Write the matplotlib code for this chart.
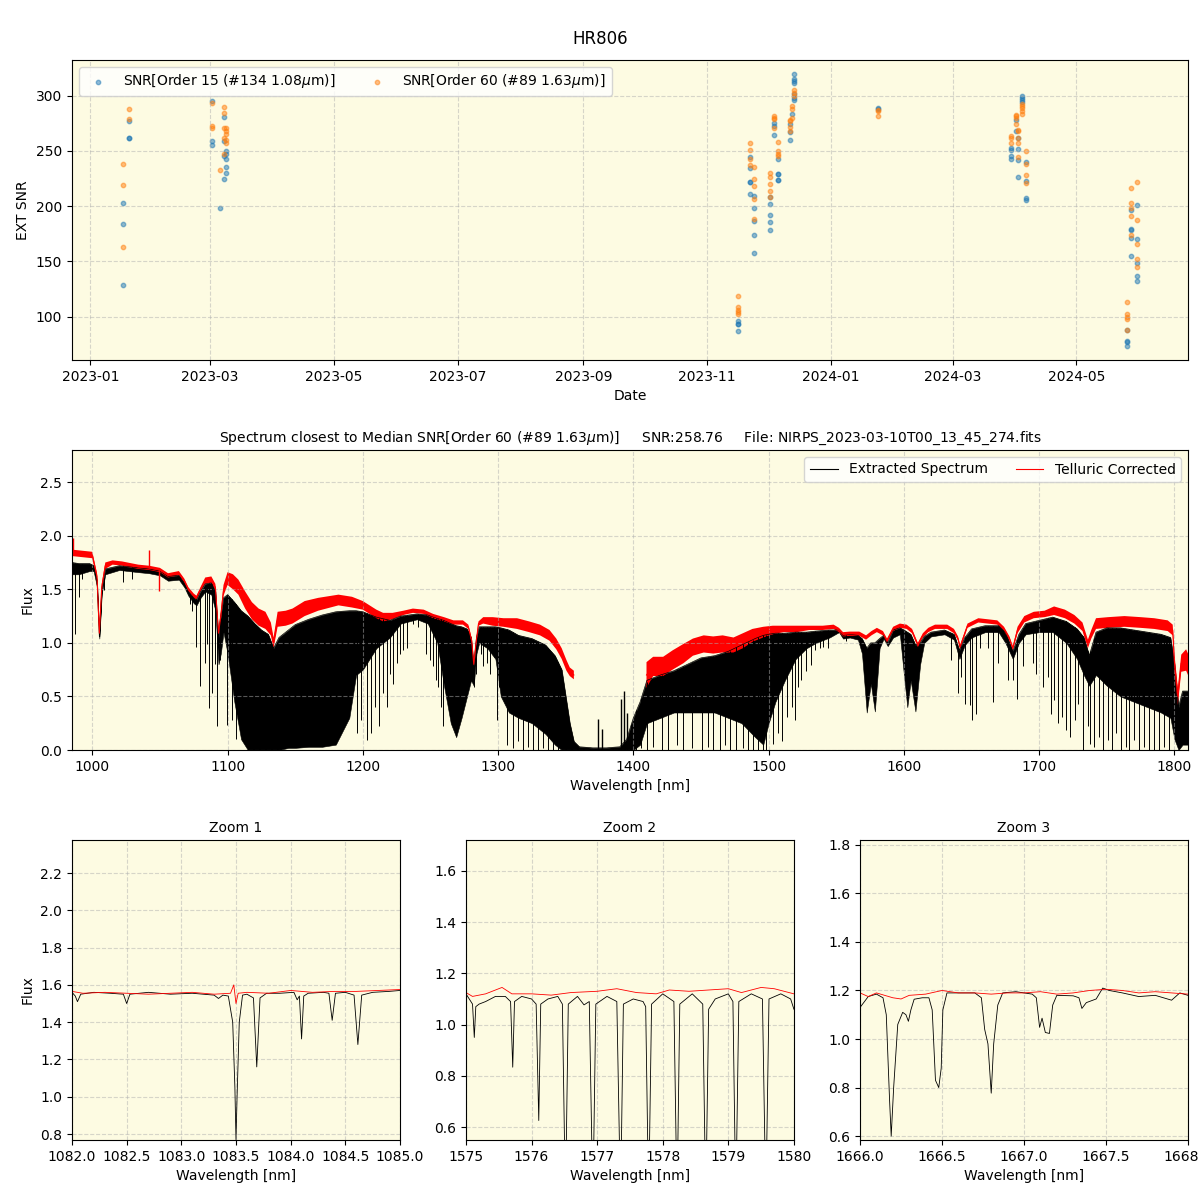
import numpy as np
import pandas as pd
import matplotlib
matplotlib.use("Agg")
import matplotlib.pyplot as plt
import matplotlib.dates as mdates
from matplotlib.lines import Line2D

# ---- SNR time series ----
snr15_dates = (["2023-01-17"] * 3 + ["2023-01-20"] * 3 + ["2023-03-02"] * 3 + ["2023-03-06"]
               + ["2023-03-08"] * 4 + ["2023-03-09"] * 5 + ["2023-11-16"] * 4 + ["2023-11-22"] * 5
               + ["2023-11-24"] * 5 + ["2023-12-02"] * 5 + ["2023-12-04"] * 3 + ["2023-12-06"] * 5
               + ["2023-12-12"] * 3 + ["2023-12-13"] + ["2023-12-14"] * 7 + ["2024-01-24"] * 2
               + ["2024-03-30"] * 4 + ["2024-04-01"] * 2 + ["2024-04-02"] * 4 + ["2024-04-04"] * 4
               + ["2024-04-06"] * 4 + ["2024-05-26"] * 4 + ["2024-05-28"] * 5 + ["2024-05-31"] * 5)
snr15 = [203, 184, 128.5, 277, 262, 262, 295, 259.4, 255.8, 198,
         281, 259.4, 245, 225, 250, 247.6, 243, 235, 229.7, 96, 93.3, 93.3, 86.6,
         244.5, 234.8, 221.8, 221.8, 211, 209.4, 198, 186.7, 173.6, 158,
         202, 192, 185.5, 178, 208.5, 275.5, 273, 264.5, 242.7, 229, 229, 223.6, 223.6,
         274.8, 267.3, 260, 283.6, 320, 315.5, 313.6, 311.2, 301.2, 298.2, 296.4, 289, 287.9,
         252.7, 251.2, 245.8, 242.7, 277.9, 268.5, 261.5, 252, 241.5, 226.4,
         299.7, 298.2, 296.4, 294.5, 239.7, 222.4, 207.6, 205.5, 88.2, 78, 76.7, 73,
         196.7, 179.7, 178, 171.2, 154.8, 201.2, 170.6, 148.2, 136.4, 132]

snr60_dates = (["2023-01-17"] * 3 + ["2023-01-20"] * 2 + ["2023-03-02"] * 3 + ["2023-03-06"]
               + ["2023-03-08"] * 5 + ["2023-03-09"] * 5 + ["2023-11-16"] * 5 + ["2023-11-22"] * 4
               + ["2023-11-24"] * 5 + ["2023-12-02"] * 5 + ["2023-12-04"] * 4 + ["2023-12-06"] * 4
               + ["2023-12-12"] * 4 + ["2023-12-13"] * 3 + ["2023-12-14"] * 3 + ["2024-01-24"] * 3
               + ["2024-03-30"] * 3 + ["2024-04-01"] * 4 + ["2024-04-02"] * 5 + ["2024-04-04"] * 5
               + ["2024-04-06"] * 4 + ["2024-05-26"] * 5 + ["2024-05-28"] * 5 + ["2024-05-31"] * 5)
snr60 = [238.5, 219.4, 163, 287.6, 278.5, 293.6, 272.4, 270.6, 233,
         289.4, 284.8, 271, 262, 247.6, 270.6, 268, 265, 259.7, 257,
         119, 108.5, 106, 104, 102.7, 257.3, 251, 243, 237,
         235.8, 224.8, 218.5, 206.7, 188.5, 230, 226.7, 220.3, 214, 208.5,
         281.5, 280, 278.5, 270.6, 258.2, 250, 247.6, 245.8, 278.2, 276.7, 272.1, 268,
         290.6, 287.6, 280, 304.8, 302.7, 299.7, 287, 285.8, 281.8, 263.3, 262, 257.3,
         282.7, 281.2, 279.7, 274.5, 269, 268, 261.5, 257, 244.8,
         292.4, 290.6, 288.5, 286.4, 283, 250, 238.5, 228.5, 221,
         113.6, 102, 100, 97.6, 88.2, 216.7, 202.7, 198, 191, 174,
         221.8, 187.3, 166, 152.2, 144.5]

# ---- extracted spectrum: upper envelope and floor of the dense telluric forest ----
blk_wl = [985, 990, 998, 1001, 1003.5, 1005.2, 1007, 1009.6, 1020, 1034, 1042, 1050, 1056, 1064,
          1068, 1071, 1075, 1077, 1080, 1083.5, 1088, 1091, 1093.3, 1095, 1097, 1100, 1105, 1110,
          1115, 1120, 1125, 1130, 1134, 1138, 1145, 1150, 1160, 1170, 1180, 1190, 1195, 1200,
          1210, 1220, 1228, 1240, 1248, 1255, 1260, 1265, 1269, 1273, 1277, 1280, 1282, 1284,
          1286, 1292, 1298, 1302, 1308, 1315, 1325, 1335, 1342, 1347, 1350, 1353, 1356, 1360,
          1370, 1380, 1390, 1395, 1400, 1405, 1410, 1420, 1430, 1440, 1450, 1460, 1470, 1480,
          1490, 1496, 1500, 1505, 1512, 1520, 1528, 1535, 1545, 1552, 1555, 1560, 1566, 1569,
          1572.5, 1575.5, 1578.5, 1582, 1585, 1588, 1592, 1597, 1600, 1602.5, 1605, 1608.5,
          1612, 1615, 1620, 1630, 1637, 1641, 1645, 1650, 1660, 1670, 1675, 1680.5, 1685, 1690,
          1700, 1710, 1720, 1728, 1733, 1737, 1742, 1750, 1760, 1770, 1780, 1790, 1797, 1800,
          1803, 1806, 1810]
blk_top = [1.75, 1.74, 1.74, 1.72, 1.58, 1.06, 1.50, 1.69, 1.72, 1.70, 1.69, 1.67, 1.62, 1.63,
           1.56, 1.48, 1.42, 1.40, 1.48, 1.55, 1.56, 1.48, 1.05, 1.25, 1.42, 1.45, 1.38, 1.30,
           1.25, 1.18, 1.12, 1.08, 0.95, 1.05, 1.12, 1.17, 1.22, 1.26, 1.29, 1.30, 1.30, 1.29,
           1.24, 1.21, 1.25, 1.27, 1.26, 1.23, 1.21, 1.18, 1.16, 1.15, 1.13, 1.05, 0.78, 1.05,
           1.15, 1.15, 1.15, 1.14, 1.12, 1.07, 1.04, 0.98, 0.88, 0.75, 0.50, 0.25, 0.08, 0.03,
           0.02, 0.02, 0.03, 0.10, 0.30, 0.45, 0.65, 0.70, 0.74, 0.80, 0.86, 0.88, 0.92, 0.98,
           1.04, 1.07, 1.08, 1.09, 1.09, 1.10, 1.10, 1.11, 1.12, 1.12, 1.07, 1.08, 1.07, 1.04,
           0.95, 1.00, 1.00, 1.04, 1.07, 1.00, 1.12, 1.14, 1.12, 1.10, 1.08, 0.98,
           1.00, 1.06, 1.10, 1.12, 1.08, 0.93, 1.05, 1.13, 1.16, 1.16, 1.10, 0.92, 1.08, 1.18,
           1.21, 1.24, 1.20, 1.13, 1.05, 0.88, 1.10, 1.14, 1.14, 1.12, 1.10, 1.08, 1.05, 0.80,
           0.40, 0.55, 0.55]
blk_floor = [1.64, 1.64, 1.67, 1.67, 1.52, 1.04, 1.46, 1.64, 1.68, 1.66, 1.65, 1.63, 1.58, 1.59,
             1.52, 1.44, 1.37, 1.35, 1.42, 1.48, 1.45, 1.30, 0.80, 0.90, 1.10, 0.90, 0.45, 0.10,
             0.0, 0.0, 0.0, 0.0, 0.0, 0.0, 0.02, 0.02, 0.03, 0.03, 0.05, 0.30, 0.70, 0.75,
             0.95, 1.05, 1.18, 1.22, 1.18, 1.00, 0.60, 0.25, 0.12, 0.30, 0.50, 0.65, 0.60, 0.90,
             1.00, 0.95, 0.85, 0.50, 0.35, 0.30, 0.25, 0.15, 0.05, 0.0, 0.0, 0.0, 0.0, 0.0,
             0.0, 0.0, 0.0, 0.0, 0.0, 0.05, 0.25, 0.30, 0.35, 0.35, 0.35, 0.35, 0.30, 0.25,
             0.12, 0.05, 0.25, 0.45, 0.65, 0.85, 0.95, 1.00, 1.05, 1.10, 1.04, 1.05, 1.03, 0.90,
             0.35, 0.62, 0.36, 0.95, 1.04, 0.97, 1.05, 1.08, 0.70, 0.40, 0.65, 0.36,
             0.80, 1.00, 1.06, 1.08, 1.03, 0.85, 0.98, 1.05, 1.10, 1.10, 1.00, 0.85, 1.00, 1.08,
             1.10, 1.10, 1.00, 0.85, 0.70, 0.60, 0.70, 0.60, 0.50, 0.45, 0.40, 0.35, 0.30, 0.10,
             0.0, 0.05, 0.05]

# isolated deep telluric lines (wavelength, minimum flux)
line_wl = [987.5, 990, 992.4, 1008.4, 1023, 1029.4, 1072.5, 1074, 1076.5, 1079.6, 1083, 1084.8,
           1086, 1088.4, 1090.5, 1092.3, 1094.6, 1099.5, 1103.2, 1106,
           1195.4, 1199, 1202.8, 1205.8, 1209, 1212.2, 1215.1, 1217.6, 1220, 1222, 1225, 1227.4,
           1229.9, 1232.9, 1236.8, 1241, 1246.7, 1249.6, 1252, 1254, 1255.8, 1257.5, 1259.5,
           1282.1, 1283.5, 1287, 1289, 1291.5, 1294, 1296.9, 1298.9, 1301,
           1306.3, 1311.2, 1314.9, 1318.6, 1322.3, 1326, 1329.7, 1333.4, 1337, 1340.7, 1344.4,
           1398.6, 1402.3, 1406, 1409.7, 1414.6, 1420.8, 1425.7, 1431.9, 1436.8, 1443, 1450.4,
           1455.3, 1459, 1463.9, 1467.6, 1471.3, 1476.2, 1481.1, 1484.8, 1488.5, 1492.2, 1496,
           1498.4,
           1503.3, 1507, 1509.5, 1513.2, 1516.9, 1519.3, 1521.8, 1524.2, 1527.9, 1531.6, 1534,
           1537.8, 1540.3, 1544, 1557,
           1634.9, 1640.3, 1642.3, 1645.3, 1648.5, 1650.4, 1653.4, 1655.9, 1662, 1665.7, 1669.4,
           1677.3, 1680.5, 1683.7, 1687.9, 1695.3, 1697.7, 1702.6, 1706.3, 1708.8, 1711.3, 1714.2,
           1716.7, 1719.9, 1722.4, 1726.1, 1729, 1732.2, 1735.9, 1737.9, 1740.8, 1744.5, 1747,
           1750.7, 1753.6, 1756.8, 1760.5, 1764.2, 1766.7, 1770.4, 1774.1, 1777.8, 1781.5,
           1785.2, 1788.9, 1792.6, 1796.3]
line_min = [1.08, 1.43, 1.60, 1.49, 1.57, 1.60, 1.36, 1.30, 0.96, 0.60, 0.81, 0.99,
            0.39, 0.53, 0.80, 0.22, 0.84, 0.23, 0.28, 0.10,
            0.16, 0.28, 0.09, 0.16, 0.40, 0.22, 0.53, 0.40, 0.71, 0.62, 0.81, 0.90,
            0.93, 0.95, 1.18, 1.15, 0.90, 0.84, 0.78, 0.65, 0.59, 0.40, 0.22,
            0.59, 0.71, 0.90, 0.78, 0.81, 0.71, 0.87, 0.28, 0.59,
            0.05, 0.02, 0.08, 0.0, 0.03, 0.0, 0.0, 0.02, 0.0, 0.0, 0.0,
            0.0, 0.0, 0.02, 0.0, 0.03, 0.0, 0.0, 0.05, 0.0, 0.02, 0.0,
            0.03, 0.0, 0.0, 0.05, 0.0, 0.0, 0.02, 0.0, 0.0, 0.0, 0.0,
            0.0,
            0.06, 0.16, 0.08, 0.31, 0.40, 0.28, 0.59, 0.65, 0.74, 0.79, 0.93,
            0.95, 0.96, 0.95, 1.02,
            0.84, 0.53, 0.68, 0.43, 0.42, 0.28, 0.34, 0.95, 0.95, 0.45, 0.81,
            0.65, 0.65, 0.48, 0.78, 0.81, 0.71, 0.59, 0.68, 0.34, 0.47, 0.25,
            0.31, 0.19, 0.12, 0.28, 0.43, 0.0, 0.22, 0.06, 0.03, 0.12, 0.0,
            0.09, 0.0, 0.16, 0.0, 0.03, 0.0, 0.09, 0.0, 0.03, 0.0,
            0.0, 0.0, 0.03, 0.0]

# small emission-like residual peaks in the saturated 1.38 um band
peak_wl = [1374, 1376.5, 1390.5, 1393, 1395]
peak_val = [0.29, 0.20, 0.48, 0.55, 0.35]

# ---- telluric corrected spectrum: centre and half spread (nan = not corrected) ----
red_wl = [985, 1000, 1003.5, 1005.2, 1007, 1009.6, 1015, 1022, 1034, 1042, 1050, 1056, 1064,
          1068, 1071, 1075, 1077, 1080, 1083.5, 1088, 1091, 1093.3, 1095, 1097, 1100, 1104,
          1108, 1113, 1118, 1123, 1128, 1132, 1134, 1137, 1143, 1148, 1157, 1167, 1182, 1192,
          1200, 1210, 1215, 1222, 1230, 1237, 1245, 1252, 1260, 1267, 1274, 1278, 1280.5, 1282,
          1283.5, 1285.5, 1289, 1296, 1304, 1314, 1323, 1331, 1338, 1343, 1347, 1350.5, 1353,
          1356, 1357, 1409, 1409.7, 1414.6, 1422, 1429, 1437, 1444, 1452, 1459, 1466, 1474, 1481,
          1488, 1496, 1503, 1511, 1521, 1530, 1540, 1548, 1552, 1555, 1560, 1567, 1572, 1576,
          1580, 1584.5, 1587.5, 1592, 1597, 1602, 1606, 1610.3, 1614, 1618, 1623, 1632, 1637,
          1640, 1641.5, 1644, 1647, 1655, 1662, 1669, 1674, 1678, 1680.5, 1684, 1689, 1696,
          1704, 1711, 1719, 1726, 1732, 1736, 1738.5, 1742, 1751, 1763, 1775, 1785, 1795,
          1798.7, 1800, 1802.5, 1805, 1808.6, 1810]
red_flux = [1.84, 1.82, 1.62, 1.09, 1.52, 1.72, 1.75, 1.74, 1.71, 1.70, 1.68, 1.63, 1.65,
            1.58, 1.50, 1.44, 1.42, 1.50, 1.58, 1.59, 1.52, 1.09, 1.25, 1.49, 1.60, 1.57,
            1.52, 1.40, 1.30, 1.24, 1.21, 1.13, 1.00, 1.22, 1.23, 1.25, 1.32, 1.36, 1.40, 1.38,
            1.35, 1.27, 1.24, 1.25, 1.28, 1.30, 1.29, 1.25, 1.22, 1.19, 1.19, 1.15, 1.02, 0.80,
            0.98, 1.18, 1.21, 1.20, 1.19, 1.18, 1.15, 1.12, 1.07, 0.99, 0.90, 0.79, 0.73,
            0.70, np.nan, np.nan, 0.70, 0.78, 0.78, 0.84, 0.90, 0.96, 0.99, 0.98, 0.99, 0.98, 1.02,
            1.07, 1.10, 1.12, 1.13, 1.13, 1.14, 1.14, 1.15, 1.12, 1.08, 1.085, 1.085, 1.05, 1.09,
            1.12, 1.09, 1.02, 1.13, 1.16, 1.15, 1.11, 0.98, 1.07, 1.12, 1.15, 1.15, 1.11,
            1.04, 0.96, 1.05, 1.16, 1.21, 1.20, 1.19, 1.13, 1.04, 0.95, 1.12, 1.22, 1.26,
            1.27, 1.30, 1.27, 1.22, 1.15, 0.99, 1.08, 1.18, 1.19, 1.20, 1.19, 1.18, 1.16,
            1.12, 0.81, 0.50, 0.81, 0.84, 0.80]
red_spread = [0.03, 0.03, 0.03, 0.02, 0.03, 0.03, 0.02, 0.02, 0.02, 0.02, 0.02, 0.02, 0.02,
              0.02, 0.02, 0.02, 0.02, 0.02, 0.03, 0.03, 0.03, 0.03, 0.04, 0.05, 0.06, 0.07,
              0.07, 0.08, 0.08, 0.08, 0.08, 0.06, 0.05, 0.07, 0.07, 0.07, 0.07, 0.06, 0.05, 0.05,
              0.04, 0.04, 0.04, 0.03, 0.02, 0.02, 0.02, 0.02, 0.02, 0.02, 0.02, 0.02, 0.02, 0.02,
              0.02, 0.02, 0.03, 0.04, 0.04, 0.05, 0.05, 0.05, 0.05, 0.05, 0.05, 0.05, 0.04,
              0.04, np.nan, np.nan, 0.12, 0.09, 0.09, 0.09, 0.09, 0.08, 0.08, 0.08, 0.08, 0.07, 0.07,
              0.06, 0.05, 0.04, 0.03, 0.03, 0.02, 0.02, 0.02, 0.02, 0.02, 0.02, 0.02, 0.02, 0.02,
              0.02, 0.02, 0.02, 0.02, 0.02, 0.02, 0.02, 0.02, 0.02, 0.02, 0.02, 0.02, 0.02,
              0.02, 0.02, 0.02, 0.02, 0.02, 0.02, 0.02, 0.02, 0.02, 0.02, 0.03, 0.03, 0.03,
              0.03, 0.04, 0.04, 0.04, 0.04, 0.04, 0.04, 0.05, 0.05, 0.05, 0.05, 0.05, 0.05,
              0.05, 0.08, 0.08, 0.08, 0.10, 0.10]
red_spike_wl = [985.5, 1042, 1049.5]
red_spike_val = [1.98, 1.87, 1.48]

# ---- zoom windows ----
z1_wl = [1082.00, 1082.03, 1082.05, 1082.08, 1082.2, 1082.35, 1082.47, 1082.5, 1082.53, 1082.7,
         1082.9, 1083.1, 1083.3, 1083.34, 1083.38, 1083.43, 1083.47, 1083.49, 1083.5, 1083.51,
         1083.53, 1083.56, 1083.6, 1083.66, 1083.69, 1083.72, 1083.78, 1083.9, 1084.03, 1084.06,
         1084.08, 1084.1, 1084.12, 1084.16, 1084.3, 1084.35, 1084.38, 1084.41, 1084.5, 1084.58,
         1084.615, 1084.65, 1084.75, 1084.9, 1085.0]
z1_ext = [1.56, 1.54, 1.51, 1.55, 1.56, 1.555, 1.55, 1.50, 1.55, 1.56,
          1.55, 1.555, 1.545, 1.527, 1.545, 1.54, 1.40, 1.05, 0.77, 1.00,
          1.40, 1.545, 1.55, 1.53, 1.16, 1.53, 1.555, 1.555, 1.56, 1.52,
          1.54, 1.31, 1.54, 1.555, 1.56, 1.555, 1.41, 1.555, 1.56, 1.545,
          1.28, 1.545, 1.56, 1.565, 1.57]
z1r_wl = [1082.0, 1082.1, 1082.3, 1082.5, 1082.7, 1082.9, 1083.1, 1083.3, 1083.45, 1083.48,
          1083.5, 1083.52, 1083.6, 1083.8, 1084.0, 1084.2, 1084.4, 1084.6, 1084.8, 1085.0]
z1_tel = [1.565, 1.555, 1.56, 1.555, 1.55, 1.555, 1.56, 1.55, 1.555, 1.60,
          1.50, 1.555, 1.56, 1.555, 1.57, 1.56, 1.565, 1.565, 1.57, 1.575]

z2_wl = [1575.0, 1575.05, 1575.1, 1575.127, 1575.15, 1575.2, 1575.3, 1575.45, 1575.6, 1575.68,
         1575.713, 1575.74, 1575.85, 1576.0, 1576.07, 1576.11, 1576.14, 1576.25, 1576.4, 1576.47,
         1576.517, 1576.56, 1576.7, 1576.8, 1576.88, 1576.935, 1576.98, 1577.15, 1577.3, 1577.357,
         1577.40, 1577.55, 1577.7, 1577.74, 1577.785, 1577.83, 1578.0, 1578.17, 1578.218, 1578.26,
         1578.45, 1578.61, 1578.656, 1578.70, 1578.8, 1579.0, 1579.07, 1579.114, 1579.16, 1579.35,
         1579.52, 1579.572, 1579.62, 1579.8, 1579.95, 1580.0]
z2_ext = [1.12, 1.10, 1.08, 0.95, 1.07, 1.08, 1.09, 1.11, 1.11, 1.09,
          0.834, 1.09, 1.11, 1.10, 1.08, 0.626, 1.08, 1.10, 1.11, 1.08,
          0.30, 1.08, 1.11, 1.077, 1.09, 0.30, 1.08, 1.11, 1.09, 0.30,
          1.08, 1.10, 1.09, 1.07, 0.30, 1.08, 1.12, 1.09, 0.30, 1.08,
          1.12, 1.08, 0.30, 1.06, 1.10, 1.12, 1.09, 0.30, 1.09, 1.12,
          1.10, 0.30, 1.10, 1.12, 1.10, 1.06]
z2r_wl = [1575.0, 1575.1, 1575.3, 1575.55, 1575.7, 1576.0, 1576.3, 1576.6, 1577.0, 1577.3,
          1577.6, 1577.9, 1578.1, 1578.4, 1578.7, 1579.0, 1579.2, 1579.5, 1579.7, 1580.0]
z2_tel = [1.125, 1.11, 1.12, 1.145, 1.12, 1.12, 1.115, 1.125, 1.13, 1.14,
          1.125, 1.12, 1.135, 1.13, 1.135, 1.14, 1.125, 1.145, 1.14, 1.12]

z3_wl = [1666.0, 1666.05, 1666.1, 1666.14, 1666.16, 1666.18, 1666.19, 1666.205, 1666.23, 1666.26,
         1666.28, 1666.295, 1666.31, 1666.33, 1666.38, 1666.42, 1666.44, 1666.46, 1666.48, 1666.495,
         1666.505, 1666.53, 1666.6, 1666.7, 1666.74, 1666.76, 1666.78, 1666.80, 1666.815, 1666.84,
         1666.87, 1666.95, 1667.05, 1667.075, 1667.095, 1667.11, 1667.13, 1667.155, 1667.175,
         1667.2, 1667.3, 1667.335, 1667.353, 1667.38, 1667.44, 1667.48, 1667.52, 1667.6, 1667.7,
         1667.8, 1667.9, 1667.95, 1668.0]
z3_ext = [1.13, 1.175, 1.185, 1.17, 1.10, 0.75, 0.60, 0.80, 1.06, 1.11,
          1.10, 1.073, 1.12, 1.164, 1.17, 1.17, 1.12, 0.83, 0.80, 0.88,
          1.12, 1.19, 1.19, 1.19, 1.17, 1.04, 0.98, 0.777, 0.98, 1.14,
          1.19, 1.195, 1.185, 1.17, 1.048, 1.086, 1.027, 1.023, 1.14,
          1.18, 1.178, 1.17, 1.126, 1.15, 1.165, 1.21, 1.20, 1.19, 1.175,
          1.18, 1.16, 1.19, 1.18]
z3r_wl = [1666.0, 1666.05, 1666.1, 1666.15, 1666.2, 1666.25, 1666.3, 1666.4, 1666.5, 1666.6,
          1666.7, 1666.8, 1666.9, 1667.0, 1667.1, 1667.2, 1667.3, 1667.4, 1667.5, 1667.6,
          1667.7, 1667.8, 1667.9, 1668.0]
z3_tel = [1.19, 1.175, 1.19, 1.18, 1.17, 1.165, 1.18, 1.185, 1.20, 1.19,
          1.19, 1.185, 1.19, 1.19, 1.195, 1.185, 1.19, 1.20, 1.205, 1.20,
          1.19, 1.195, 1.19, 1.185]

zooms = [
    ("Zoom 1", z1_wl, z1_ext, z1r_wl, z1_tel, (1082, 1085), (0.768, 2.377)),
    ("Zoom 2", z2_wl, z2_ext, z2r_wl, z2_tel, (1575, 1580), (0.55, 1.72)),
    ("Zoom 3", z3_wl, z3_ext, z3r_wl, z3_tel, (1666, 1668), (0.584, 1.82)),
]

bg = '#fdfbe2'

fig = plt.figure(figsize=(12, 12), dpi=100)
fig.suptitle("HR806", y=0.975, fontsize=12)

# top panel: SNR vs date
ax = fig.add_axes([0.06, 0.70, 0.93, 0.25])
ax.set_facecolor(bg)
ax.scatter(pd.to_datetime(snr15_dates), snr15, s=10, alpha=0.5,
           label=r"SNR[Order 15 (#134 1.08$\mu$m)]")
ax.scatter(pd.to_datetime(snr60_dates), snr60, s=10, alpha=0.5,
           label=r"SNR[Order 60 (#89 1.63$\mu$m)]")
ax.xaxis.set_major_locator(mdates.MonthLocator(bymonth=[1, 3, 5, 7, 9, 11]))
ax.xaxis.set_major_formatter(mdates.DateFormatter('%Y-%m'))
ax.set_xlabel("Date")
ax.set_ylabel("EXT SNR")
ax.grid(True, linestyle='--', alpha=0.5)
ax.legend(loc='upper left', ncol=2)

# middle panel: full spectrum
ax = fig.add_axes([0.06, 0.375, 0.93, 0.25])
ax.set_facecolor(bg)
bw = np.array(blk_wl)
btop = np.array(blk_top)
ax.fill_between(bw, blk_floor, btop, color='black', lw=0.4)
ax.plot(bw, btop, color='black', lw=0.5)
ax.vlines(line_wl, line_min, np.interp(line_wl, bw, btop), color='black', lw=0.7)
ax.vlines(peak_wl, 0, peak_val, color='black', lw=1.0)
rw = np.array(red_wl)
rf = np.array(red_flux)
rs = np.array(red_spread)
ax.fill_between(rw, rf - rs, rf + rs, color='red', lw=0)
ax.plot(rw, rf, color='red', lw=0.8)
ax.vlines(red_spike_wl, np.interp(red_spike_wl, rw, rf), red_spike_val, color='red', lw=1)
ax.set_xlim(985, 1810)
ax.set_ylim(0, 2.8)
ax.set_xlabel("Wavelength [nm]")
ax.set_ylabel("Flux")
ax.set_title(r"Spectrum closest to Median SNR[Order 60 (#89 1.63$\mu$m)]     SNR:258.76     "
             "File: NIRPS_2023-03-10T00_13_45_274.fits", fontsize=10)
ax.grid(True, linestyle='--', alpha=0.5)
handles = [Line2D([], [], color='black', lw=0.8, label="Extracted Spectrum"),
           Line2D([], [], color='red', lw=0.8, label="Telluric Corrected")]
ax.legend(handles=handles, loc='upper right', ncol=2)

# bottom panels: zooms
lefts = [0.06, 0.3883, 0.7167]
for i, (title, wl, ext, rwl, tel, xl, yl) in enumerate(zooms):
    ax = fig.add_axes([lefts[i], 0.05, 0.2733, 0.25])
    ax.set_facecolor(bg)
    ax.plot(wl, ext, color='black', lw=0.6)
    ax.plot(rwl, tel, color='red', lw=0.6)
    ax.set_xlim(*xl)
    ax.set_ylim(*yl)
    ax.set_title(title, fontsize=10)
    ax.set_xlabel("Wavelength [nm]")
    if i == 0:
        ax.set_ylabel("Flux")
    ax.grid(True, linestyle='--', alpha=0.5)

fig.savefig("out.png", dpi=100)
